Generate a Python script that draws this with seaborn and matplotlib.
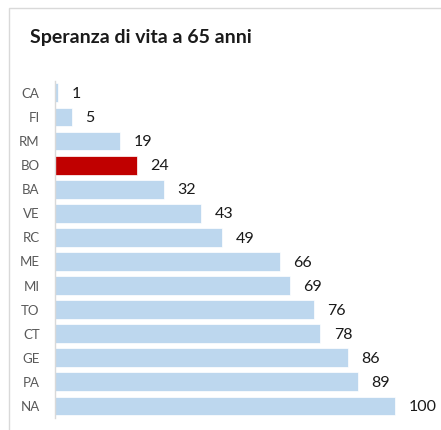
import matplotlib
matplotlib.use('Agg')
import matplotlib.pyplot as plt
import seaborn as sns
import pandas as pd
from matplotlib.patches import Rectangle

# ── Data ──────────────────────────────────────────────
cities = ['CA', 'FI', 'RM', 'BO', 'BA', 'VE', 'RC', 'ME', 'MI', 'TO', 'CT', 'GE', 'PA', 'NA']
values = [1, 5, 19, 24, 32, 43, 49, 66, 69, 76, 78, 86, 89, 100]
highlight = 'BO'

df = pd.DataFrame({'city': cities, 'value': values})
palette = {c: ('#C00000' if c == highlight else '#BDD7EE') for c in cities}

# ── Plot ──────────────────────────────────────────────
sns.set_style('white')
plt.rcParams['font.family'] = ['Lato', 'DejaVu Sans']

fig = plt.figure(figsize=(4.41, 4.30), dpi=100)
ax = fig.add_axes([0.1247, 0.028, 0.864, 0.784])

sns.barplot(data=df, x='value', y='city', hue='city', palette=palette,
            order=cities, legend=False, orient='h', width=0.78, saturation=1,
            ax=ax, edgecolor='white', linewidth=0.5)

for i, v in enumerate(values):
    ax.text(v + 4, i + 0.05, str(v), va='center', ha='left', fontsize=11.5, color='#1a1a1a')

ax.set_xlim(0, 112)
ax.set_ylim(13.5, -0.5)
ax.set_xlabel('')
ax.set_ylabel('')
ax.set_xticks([])
ax.tick_params(axis='y', length=0, pad=11, labelsize=9.5, labelcolor='#595959')
for s in ['top', 'right', 'bottom']:
    ax.spines[s].set_visible(False)
ax.spines['left'].set_color('#D9D9D9')
ax.spines['left'].set_linewidth(1)

fig.text(0.068, 0.912, 'Speranza di vita a 65 anni', fontsize=14,
         fontweight='bold', color='#1a1a1a', va='center', ha='left')

# chart border
fig.patches.append(Rectangle((0.02, -0.05), 1.2, 1.031, transform=fig.transFigure,
                             fill=False, edgecolor='#D9D9D9', linewidth=1))

fig.savefig('out.png', dpi=100)
